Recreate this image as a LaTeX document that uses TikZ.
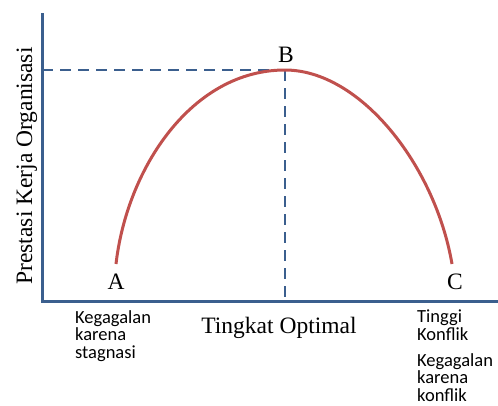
\documentclass[tikz,border=0pt]{standalone}
\usepackage{fontspec}
\setmainfont{Liberation Serif}
\newfontfamily\notefont{Carlito}
\definecolor{axisblue}{HTML}{3B5F8E}
\definecolor{curvered}{HTML}{C0504D}
\begin{document}
\begin{tikzpicture}[x=1pt,y=-1pt,
  axis/.style={draw=axisblue,line width=3pt},
  guide/.style={draw=axisblue,line width=2.5pt,dash pattern=on 11pt off 7pt},
  curve/.style={draw=curvered,line width=3pt},
  serif/.style={font=\fontsize{23.5}{26}\selectfont,inner sep=0pt},
  note/.style={font=\notefont\fontsize{18.5}{17.5}\selectfont,align=left,inner sep=0pt,anchor=north west}]
\useasboundingbox (0,0) rectangle (498,405);
\coordinate (top) at (42,13);
\coordinate (origin) at (42,301);
\coordinate (xend) at (498,301);
\coordinate (a) at (116,264);
\coordinate (b) at (285,70);
\coordinate (c) at (452,264);
\coordinate (yb) at (42,70);
\coordinate (xb) at (285,301);
\draw[guide] (yb) -- (b);
\draw[guide] (b) -- (xb);
\draw[axis] (top) -- (origin) -- (xend);
\draw[curve] (a) .. controls (127,168) and (192,70) .. (b)
  .. controls (360,70) and (435,165) .. (c);
\node[serif] (la) at (116,282) {A};
\node[serif] (lb) at (286,55) {B};
\node[serif] (lc) at (455,282) {C};
\node[serif,rotate=90] (ylab) at (27,166) {Prestasi Kerja Organisasi};
\node[serif] (xlab) at (279,328) {Tingkat Optimal};
\node[note] (n1) at (75,310) {Kegagalan\\karena\\stagnasi};
\node[note] (n2) at (417,310) {Tinggi\\Konflik};
\node[note] (n3) at (417,353) {Kegagalan\\karena\\konflik};
\end{tikzpicture}
\end{document}
